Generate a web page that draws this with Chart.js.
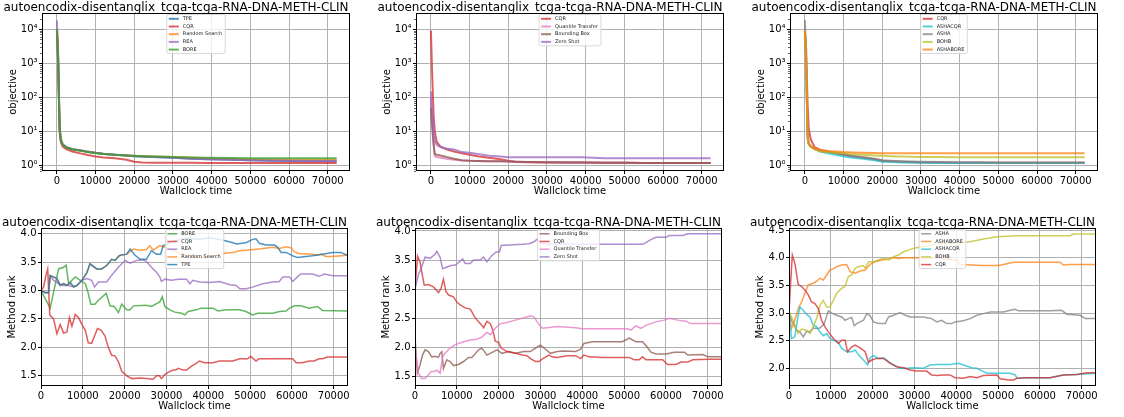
<!DOCTYPE html>
<html>
<head>
<meta charset="utf-8">
<script src="https://cdn.jsdelivr.net/npm/chart.js@4.4.1/dist/chart.umd.min.js"></script>
<style>
  body { margin: 0; background: #fff; width: 1124px; height: 417px; overflow: hidden; position: relative; }
  canvas { position: absolute; }
</style>
</head>
<body>
<canvas id="objBaselines" width="388" height="201" style="left:2px;top:-4px"></canvas>
<canvas id="objTransfer" width="388" height="201" style="left:376px;top:-4px"></canvas>
<canvas id="objMultiFidelity" width="388" height="201" style="left:750px;top:-4px"></canvas>
<canvas id="rankBaselines" width="387" height="201" style="left:1px;top:211px"></canvas>
<canvas id="rankTransfer" width="387" height="201" style="left:375px;top:211px"></canvas>
<canvas id="rankMultiFidelity" width="387" height="201" style="left:749px;top:211px"></canvas>
<script>
const figTitle = 'autoencodix-disentanglix_tcga-tcga-RNA-DNA-METH-CLIN';
const timeTicks = [0, 10000, 20000, 30000, 40000, 50000, 60000, 70000];
const objectiveTicks = [1, 10, 100, 1000, 10000];
const superscripts = ['⁰', '¹', '²', '³', '⁴'];

// wallclock times at which the best objective curves are sampled
const objectiveTimes = [0, 300, 700, 1000, 1500, 2500, 4000, 6000, 8000, 10000, 12000, 15000, 18000, 20000, 22000, 25000, 30000, 35000, 39000, 45000, 50000, 55000, 60000, 65000, 72300];

// best objective so far, baselines
const tpeObj = [9000, 1500, 12, 5.5, 4.0, 3.4, 3.0, 2.8, 2.5, 2.35, 2.2, 2.1, 2.0, 1.9, 1.85, 1.8, 1.7, 1.6, 1.55, 1.5, 1.45, 1.4, 1.38, 1.36, 1.35];
const cqrObj = [9000, 1200, 10, 5, 3.6, 3.0, 2.6, 2.3, 2.05, 1.85, 1.75, 1.65, 1.5, 1.3, 1.24, 1.23, 1.22, 1.22, 1.21, 1.21, 1.2, 1.2, 1.2, 1.2, 1.2];
const rsObj = [9000, 1800, 13, 5.5, 4.0, 3.4, 3.0, 2.8, 2.55, 2.4, 2.25, 2.1, 2.0, 1.95, 1.9, 1.85, 1.8, 1.72, 1.65, 1.6, 1.55, 1.52, 1.5, 1.5, 1.5];
const reaObj = [18000, 2000, 14, 6, 4.2, 3.5, 3.1, 2.85, 2.6, 2.4, 2.25, 2.1, 2.0, 1.9, 1.85, 1.8, 1.7, 1.6, 1.55, 1.5, 1.45, 1.42, 1.4, 1.38, 1.37];
const boreObj = [10000, 2000, 13, 6, 4.2, 3.4, 3.0, 2.8, 2.5, 2.35, 2.2, 2.1, 2.0, 1.95, 1.9, 1.85, 1.8, 1.75, 1.7, 1.68, 1.66, 1.65, 1.65, 1.65, 1.65];

// best objective so far, transfer methods
const cqrTransferObj = [9000, 600, 30, 10, 5, 3.6, 3.0, 2.6, 2.3, 2.1, 1.9, 1.7, 1.55, 1.4, 1.28, 1.26, 1.25, 1.25, 1.24, 1.23, 1.22, 1.21, 1.2, 1.2, 1.2];
const quantileObj = [100, 20, 5, 1.9, 1.8, 1.7, 1.6, 1.5, 1.42, 1.4, 1.38, 1.36, 1.34, 1.32, 1.3, 1.28, 1.26, 1.25, 1.24, 1.23, 1.22, 1.21, 1.2, 1.2, 1.2];
const boundingObj = [50, 15, 4, 2.2, 2.1, 2.0, 1.8, 1.6, 1.45, 1.4, 1.38, 1.36, 1.34, 1.32, 1.3, 1.28, 1.26, 1.25, 1.24, 1.23, 1.22, 1.21, 1.2, 1.2, 1.2];
const zeroShotObj = [150, 40, 8, 5.5, 4.0, 3.5, 3.2, 3.0, 2.5, 2.4, 2.2, 1.95, 1.85, 1.78, 1.78, 1.78, 1.78, 1.78, 1.76, 1.66, 1.66, 1.66, 1.65, 1.65, 1.65];

// best objective so far, multi-fidelity methods
const cqrMfObj = [9000, 3000, 60, 12, 6, 3.5, 2.9, 2.6, 2.3, 2.1, 1.9, 1.7, 1.55, 1.4, 1.35, 1.3, 1.25, 1.24, 1.23, 1.22, 1.22, 1.22, 1.22, 1.22, 1.22];
const ashaCqrObj = [9000, 1000, 6, 4.2, 3.6, 3.1, 2.6, 2.3, 2.1, 1.9, 1.75, 1.6, 1.45, 1.3, 1.28, 1.25, 1.22, 1.2, 1.2, 1.2, 1.2, 1.2, 1.2, 1.2, 1.2];
const ashaObj = [18000, 1500, 8, 4.4, 3.7, 3.1, 2.7, 2.5, 2.35, 2.2, 2.0, 1.8, 1.6, 1.45, 1.4, 1.35, 1.3, 1.28, 1.27, 1.26, 1.25, 1.25, 1.25, 1.25, 1.25];
const bohbObj = [9000, 1200, 7, 4.3, 3.6, 3.0, 2.6, 2.5, 2.4, 2.3, 2.2, 2.1, 2.0, 1.95, 1.9, 1.85, 1.8, 1.8, 1.78, 1.78, 1.78, 1.78, 1.78, 1.78, 1.78];
const ashaBoreObj = [9000, 1500, 8, 4.5, 3.8, 3.2, 2.9, 2.7, 2.6, 2.5, 2.45, 2.4, 2.35, 2.3, 2.3, 2.3, 2.3, 2.3, 2.3, 2.3, 2.3, 2.3, 2.3, 2.3, 2.3];

// average rank over time, [wallclock, rank]
const boreRank = [[0,3.0],[2200,2.69],[4200,3.38],[5400,3.41],[6000,3.45],[6600,3.12],[7400,3.18],[8200,3.24],[9400,3.18],[10600,3.12],[11200,2.98],[11900,2.76],[12900,2.76],[13700,2.83],[15600,2.95],[16500,2.73],[17500,2.72],[18500,2.61],[19300,2.76],[20500,2.66],[21300,2.66],[22100,2.73],[25200,2.74],[26400,2.72],[28400,2.8],[29000,2.89],[29600,2.72],[30800,2.66],[32000,2.62],[33600,2.6],[34400,2.57],[35200,2.63],[37100,2.66],[38300,2.69],[41100,2.69],[42300,2.64],[44300,2.66],[47500,2.66],[49000,2.63],[50600,2.57],[51800,2.6],[55400,2.6],[57000,2.63],[58600,2.64],[59400,2.69],[60600,2.73],[62100,2.73],[64100,2.69],[66100,2.72],[67300,2.65],[73400,2.64]];
const cqrRank = [[0,3.0],[600,3.06],[1200,3.27],[1600,3.38],[2100,2.57],[3000,2.5],[3800,2.24],[4600,2.4],[5400,2.25],[6200,2.27],[6800,2.52],[7400,2.37],[8200,2.58],[9000,2.52],[9800,2.4],[10600,2.3],[11300,2.08],[12100,2.07],[12800,2.2],[13500,2.33],[14400,2.3],[15300,2.2],[16100,2.0],[16900,1.86],[17700,1.85],[18500,1.75],[19300,1.58],[20500,1.5],[21700,1.45],[23700,1.46],[25200,1.45],[26800,1.44],[27600,1.5],[28300,1.5],[28800,1.45],[29600,1.52],[30400,1.56],[31600,1.6],[32200,1.6],[32800,1.63],[34000,1.6],[34800,1.6],[36000,1.67],[37100,1.72],[37900,1.76],[39100,1.73],[41100,1.73],[42700,1.76],[45900,1.76],[47500,1.8],[49400,1.8],[50200,1.84],[51400,1.76],[52200,1.8],[58600,1.8],[60200,1.8],[61000,1.73],[62500,1.73],[64100,1.76],[65300,1.76],[66500,1.8],[67300,1.8],[68500,1.83],[73400,1.83]];
const reaRank = [[0,3.0],[1000,2.97],[1800,2.97],[2200,3.26],[3000,3.18],[4200,3.12],[5400,3.09],[6600,3.09],[7400,3.07],[8600,3.09],[9800,3.18],[11000,3.21],[12100,3.18],[12800,3.06],[13700,3.15],[15700,3.15],[16900,3.27],[18500,3.41],[20100,3.53],[21300,3.48],[22900,3.53],[24400,3.54],[25200,3.51],[26400,3.41],[27600,3.32],[28400,3.24],[28800,3.16],[29600,3.2],[31200,3.18],[32800,3.2],[34800,3.2],[35600,3.12],[36300,3.18],[37900,3.15],[40300,3.14],[42700,3.16],[45100,3.1],[46700,3.09],[47500,3.03],[49000,3.03],[50600,3.06],[53000,3.12],[55400,3.15],[57000,3.16],[57800,3.24],[59400,3.24],[60200,3.16],[61300,3.24],[62100,3.29],[64900,3.29],[66500,3.25],[67700,3.29],[69700,3.26],[73400,3.26]];
const rsRank = [[0,3.0],[1000,2.96],[1800,2.96],[2200,3.26],[3000,3.24],[3800,3.21],[4600,3.09],[5400,3.12],[6200,3.09],[7000,3.14],[7800,3.06],[8600,3.09],[9800,3.18],[11000,3.32],[11700,3.47],[13300,3.38],[14500,3.38],[15700,3.44],[16900,3.55],[17700,3.53],[18500,3.61],[20500,3.64],[22100,3.73],[23700,3.71],[25200,3.72],[26000,3.79],[26800,3.71],[28400,3.79],[29600,3.76],[31600,3.7],[34800,3.62],[37900,3.58],[41100,3.6],[44300,3.66],[45900,3.67],[47500,3.7],[49000,3.71],[52200,3.73],[55400,3.76],[57000,3.74],[58600,3.77],[59800,3.75],[60600,3.68],[61700,3.65],[64900,3.64],[66100,3.62],[66900,3.64],[68100,3.6],[69300,3.6],[72100,3.61],[73400,3.64]];
const tpeRank = [[0,3.0],[1000,2.96],[1800,2.96],[2200,3.26],[3000,3.24],[3800,3.21],[4600,3.09],[5400,3.12],[6200,3.09],[7000,3.14],[7800,3.06],[8600,3.09],[9800,3.18],[11000,3.32],[11700,3.47],[13300,3.38],[14500,3.38],[15700,3.44],[16900,3.55],[17700,3.53],[18900,3.62],[20500,3.64],[21300,3.73],[22500,3.62],[23700,3.55],[25200,3.55],[26400,3.7],[27600,3.64],[28600,3.64],[29200,3.79],[30000,3.81],[31600,3.87],[33600,3.9],[34800,3.92],[37900,3.9],[40300,3.93],[42700,3.9],[44300,3.87],[45900,3.84],[46700,3.82],[49000,3.84],[50600,3.9],[51400,3.91],[52200,3.83],[53800,3.8],[55800,3.8],[56600,3.76],[57400,3.67],[58600,3.67],[60200,3.61],[61300,3.58],[64900,3.61],[67300,3.64],[69700,3.67],[71700,3.67],[73400,3.61]];

const boundingRank = [[0,2.18],[560,1.56],[1200,1.7],[1800,1.87],[2400,1.96],[3200,1.93],[4000,1.84],[4800,1.85],[5600,1.83],[6000,1.9],[6400,1.93],[6800,1.64],[7600,1.79],[8400,1.76],[9200,1.69],[10400,1.71],[11600,1.76],[12800,1.83],[13600,1.83],[15200,1.96],[16000,1.99],[17200,1.87],[18000,1.9],[19600,1.96],[20800,1.9],[22400,1.93],[24000,1.9],[26000,1.93],[27600,1.93],[28800,1.99],[30000,2.04],[31200,1.97],[32400,1.9],[34000,1.93],[35600,1.94],[38400,1.93],[39600,1.97],[40400,2.07],[42400,2.1],[49600,2.1],[51200,2.16],[52800,2.1],[54400,2.1],[55600,2.0],[56400,1.92],[57600,1.89],[60000,1.89],[62000,1.92],[64400,1.92],[65200,1.87],[68800,1.88],[70000,1.84],[73400,1.84]];
const cqrTransferRank = [[0,3.0],[600,3.57],[1200,3.47],[1600,3.3],[2200,3.07],[3200,3.08],[4400,3.04],[5200,2.98],[5600,2.94],[6200,3.01],[6800,3.17],[7400,2.96],[8000,2.9],[9200,2.87],[10000,2.78],[10800,2.73],[12000,2.68],[13200,2.66],[13600,2.61],[14200,2.53],[15200,2.44],[16000,2.38],[16400,2.34],[17200,2.45],[18000,2.41],[18600,2.3],[19200,2.11],[20000,2.09],[20600,1.99],[22000,1.93],[24000,1.9],[25600,1.87],[26800,1.86],[27600,1.81],[28800,1.76],[29600,1.76],[30400,1.8],[32000,1.87],[32800,1.84],[34000,1.83],[36400,1.86],[38400,1.86],[39600,1.81],[40400,1.87],[41600,1.84],[44800,1.83],[51200,1.83],[52400,1.79],[53600,1.79],[54400,1.84],[55200,1.79],[59200,1.79],[60400,1.71],[62400,1.71],[63600,1.75],[65200,1.75],[66400,1.79],[70400,1.8],[73400,1.8]];
const quantileRank = [[0,2.0],[800,1.56],[1600,1.47],[2400,1.47],[3200,1.53],[3800,1.59],[4600,1.59],[5200,1.61],[6000,1.56],[6600,1.84],[7200,1.9],[8400,1.99],[9600,2.05],[11600,2.1],[13200,2.13],[14800,2.14],[16000,2.18],[17200,2.26],[18000,2.22],[19200,2.33],[20400,2.41],[22000,2.43],[24000,2.47],[26000,2.51],[27600,2.54],[28400,2.53],[29200,2.44],[30400,2.33],[31600,2.34],[34000,2.36],[38400,2.34],[40000,2.32],[46400,2.32],[50800,2.32],[51600,2.3],[52800,2.37],[54000,2.33],[55200,2.38],[57600,2.44],[59600,2.47],[60800,2.5],[62800,2.47],[64800,2.45],[66000,2.41],[73400,2.41]];
const zeroShotRank = [[0,3.0],[800,3.25],[1600,3.38],[2400,3.55],[3600,3.53],[4800,3.6],[5200,3.65],[6000,3.55],[6600,3.35],[7600,3.38],[8800,3.41],[9600,3.41],[10800,3.48],[11400,3.52],[12000,3.44],[13200,3.44],[14000,3.5],[15600,3.5],[16400,3.55],[17200,3.47],[18400,3.58],[19400,3.64],[20200,3.64],[20600,3.75],[22400,3.76],[25600,3.77],[27200,3.78],[28400,3.81],[29200,3.86],[30000,3.79],[32000,3.77],[44800,3.77],[54400,3.77],[55200,3.8],[56400,3.85],[57600,3.89],[60000,3.89],[60800,3.92],[64000,3.92],[65200,3.95],[73400,3.95]];

const ashaRank = [[0,3.02],[600,2.87],[1800,2.69],[2600,2.66],[3400,2.57],[4200,2.67],[5000,2.66],[5800,2.73],[6600,2.72],[7400,2.73],[8400,2.8],[9400,3.04],[10200,3.0],[11400,2.96],[12600,2.93],[13400,2.87],[14200,2.9],[15000,2.92],[15600,2.77],[16200,2.81],[17000,2.84],[17800,2.87],[18600,2.99],[19400,2.95],[20200,2.84],[21400,2.81],[23000,2.81],[23800,2.93],[25000,2.96],[26600,3.01],[27800,2.96],[29000,2.93],[32100,2.93],[34100,2.9],[35300,2.84],[36500,2.87],[37700,2.81],[38900,2.81],[39700,2.84],[41700,2.86],[43300,2.9],[44900,2.96],[46500,2.99],[48100,3.02],[51300,3.02],[52900,3.05],[54100,3.07],[54900,3.04],[62400,3.04],[65200,3.05],[66400,2.98],[69600,2.96],[70800,2.9],[73400,2.9]];
const ashaBoreRank = [[0,3.02],[600,2.72],[1400,2.87],[2200,3.08],[3000,3.2],[3800,3.36],[4600,3.51],[5800,3.54],[6600,3.58],[7400,3.63],[8200,3.6],[9000,3.69],[9800,3.78],[10600,3.8],[11400,3.84],[12600,3.87],[13800,3.88],[14600,3.75],[15800,3.72],[17000,3.76],[18200,3.78],[19400,3.88],[20600,3.93],[22200,3.96],[23800,3.98],[25000,4.0],[26200,3.99],[27800,4.0],[35300,4.0],[40100,3.96],[40900,3.88],[46500,3.86],[50100,3.86],[51300,3.88],[53700,3.92],[64800,3.92],[65600,3.87],[67200,3.88],[73400,3.88]];
const ashaCqrRank = [[0,3.02],[600,2.54],[1400,2.57],[2200,2.96],[2600,3.11],[3400,3.05],[4200,2.98],[5000,2.93],[5800,2.78],[6600,2.75],[7400,2.66],[8200,2.59],[9000,2.63],[9800,2.54],[10600,2.51],[11800,2.47],[12600,2.36],[13800,2.3],[15000,2.3],[15800,2.33],[17000,2.21],[18200,2.12],[18800,2.06],[19400,2.19],[20200,2.23],[21400,2.18],[22600,2.19],[23800,2.12],[25000,2.06],[26600,2.0],[28200,2.0],[29700,2.01],[32100,2.0],[33700,2.06],[35300,2.07],[38500,2.07],[40500,2.09],[41700,2.06],[43700,2.01],[44900,2.0],[46500,1.94],[47300,1.91],[52900,1.91],[54100,1.88],[54500,1.82],[56900,1.83],[62400,1.83],[65600,1.88],[68800,1.89],[73400,1.91]];
const bohbRank = [[0,3.02],[1000,2.87],[2200,2.63],[3000,2.71],[4200,2.69],[5000,2.63],[5800,2.75],[6600,2.9],[7400,3.14],[8200,3.23],[9000,3.11],[9800,3.11],[10600,3.23],[11400,3.36],[12600,3.45],[13400,3.48],[14200,3.66],[15000,3.69],[15800,3.81],[16600,3.84],[17800,3.86],[18200,3.81],[19000,3.93],[20200,3.93],[21400,3.96],[22600,3.99],[23800,3.96],[25000,4.02],[26200,4.05],[27400,4.11],[28500,4.14],[30100,4.18],[32100,4.2],[34100,4.23],[35300,4.26],[38500,4.26],[43300,4.29],[46500,4.34],[49700,4.38],[54500,4.4],[67200,4.4],[68000,4.43],[73400,4.43]];
const cqrMfRank = [[0,3.02],[400,3.57],[800,4.05],[1400,3.9],[2200,3.52],[3000,3.48],[3800,3.42],[4600,3.33],[5400,3.2],[6200,3.17],[7000,3.08],[7800,2.87],[8600,2.75],[9400,2.66],[10600,2.54],[11800,2.45],[12600,2.51],[13400,2.51],[14000,2.3],[15000,2.39],[15800,2.42],[17000,2.37],[18200,2.3],[19000,2.11],[19800,2.15],[21000,2.18],[22600,2.18],[24200,2.09],[25800,2.03],[27400,2.01],[28900,1.97],[30500,1.95],[32900,1.95],[34100,1.88],[35300,1.87],[36900,1.88],[38500,1.88],[39700,1.83],[41700,1.82],[43300,1.85],[44900,1.83],[46500,1.87],[49700,1.88],[50500,1.81],[52500,1.79],[53700,1.79],[54500,1.82],[56900,1.83],[62400,1.83],[65600,1.88],[68800,1.89],[71200,1.92],[73400,1.92]];

const tab = {
  blue: 'rgba(31,119,180,0.8)',
  orange: 'rgba(255,127,14,0.75)',
  green: 'rgba(44,160,44,0.75)',
  red: 'rgba(214,39,40,0.75)',
  purple: 'rgba(148,103,189,0.75)',
  brown: 'rgba(140,86,75,0.75)',
  pink: 'rgba(227,119,194,0.75)',
  gray: 'rgba(127,127,127,0.75)',
  olive: 'rgba(188,189,34,0.75)',
  cyan: 'rgba(23,190,207,0.75)'
};

Chart.defaults.font.family = "'DejaVu Sans', sans-serif";
Chart.defaults.color = '#000';

// closed black box around the plot area, plus minor ticks on log axes
const frameBox = {
  id: 'frameBox',
  afterDraw(chart) {
    const { ctx, chartArea: a } = chart;
    ctx.save();
    ctx.strokeStyle = '#000';
    ctx.lineWidth = 1;
    ctx.strokeRect(a.left + 0.5, a.top + 0.5, a.right - a.left - 1, a.bottom - a.top - 1);
    const y = chart.scales.y;
    if (y.type === 'logarithmic') {
      ctx.lineWidth = 0.6;
      ctx.beginPath();
      for (let e = -1; e <= 4; e++) {
        for (let k = 2; k <= 9; k++) {
          const v = k * Math.pow(10, e);
          if (v < y.min || v > y.max) continue;
          const py = Math.round(y.getPixelForValue(v)) + 0.5;
          ctx.moveTo(a.left - 2, py);
          ctx.lineTo(a.left, py);
        }
      }
      ctx.stroke();
    }
    ctx.restore();
  }
};

// small framed legend at the upper centre of the plot area
const cornerLegend = {
  id: 'cornerLegend',
  afterDatasetsDraw(chart) {
    const ctx = chart.ctx;
    const a = chart.chartArea;
    const sets = chart.data.datasets;
    ctx.save();
    ctx.font = '5px "DejaVu Sans"';
    const textW = Math.max(...sets.map(d => ctx.measureText(d.label).width));
    const w = textW + 19;
    const h = sets.length * 7.7 + 0.5;
    const left = (a.left + a.right) / 2 - w / 2;
    const top = a.top + 1.5;
    ctx.beginPath();
    ctx.roundRect(left, top, w, h, 1.5);
    ctx.fillStyle = 'rgba(255,255,255,0.8)';
    ctx.fill();
    ctx.strokeStyle = '#d0d0d0';
    ctx.lineWidth = 0.8;
    ctx.stroke();
    ctx.textBaseline = 'middle';
    sets.forEach((d, i) => {
      const y = top + 4.3 + i * 7.7;
      ctx.beginPath();
      ctx.moveTo(left + 2, y);
      ctx.lineTo(left + 12, y);
      ctx.strokeStyle = d.borderColor;
      ctx.lineWidth = d.borderWidth;
      ctx.stroke();
      ctx.fillStyle = '#222';
      ctx.fillText(d.label, left + 16, y);
    });
    ctx.restore();
  }
};

const gridStyle = { color: '#b0b0b0', lineWidth: 1, tickLength: 3, tickColor: '#000' };

function timeAxis(min, max) {
  return {
    type: 'linear', min, max,
    afterBuildTicks: axis => { axis.ticks = timeTicks.map(value => ({ value })); },
    afterFit: axis => { axis.height = 26; },
    ticks: { callback: v => String(v), font: { size: 10 }, padding: 1, maxRotation: 0, autoSkip: false },
    grid: gridStyle,
    border: { display: false },
    title: { display: true, text: 'Wallclock time', font: { size: 10 }, padding: { top: 0, bottom: 0 } }
  };
}

function objectiveAxis() {
  return {
    type: 'logarithmic', min: 0.7, max: 29500,
    afterBuildTicks: axis => { axis.ticks = objectiveTicks.map(value => ({ value })); },
    afterFit: axis => { axis.width = 40; },
    ticks: { callback: v => '10' + superscripts[Math.round(Math.log10(v))], font: { size: 10 }, padding: 1.5, autoSkip: false },
    grid: gridStyle,
    border: { display: false },
    title: { display: true, text: 'objective', font: { size: 10 }, padding: { top: 5.5, bottom: 0 } }
  };
}

function rankAxis(min, max, ticks) {
  return {
    type: 'linear', min, max,
    afterBuildTicks: axis => { axis.ticks = ticks.map(value => ({ value })); },
    afterFit: axis => { axis.width = 40; },
    ticks: { callback: v => v.toFixed(1), font: { size: 10 }, padding: 1.5, autoSkip: false },
    grid: gridStyle,
    border: { display: false },
    title: { display: true, text: 'Method rank', font: { size: 10 }, padding: { top: 5.5, bottom: 0 } }
  };
}

function objectiveSeries(list) {
  return list.map(([label, color, values], i) => ({
    label, borderColor: color, borderWidth: 2, pointRadius: 0, fill: false, order: -i,
    data: values.map((v, j) => ({ x: objectiveTimes[j], y: v }))
  }));
}

function rankSeries(list) {
  return list.map(([label, color, pts], i) => ({
    label, borderColor: color, borderWidth: 1.5, pointRadius: 0, fill: false, order: -i,
    data: pts.map(([x, y]) => ({ x, y }))
  }));
}

function drawPanel(id, datasets, x, y) {
  new Chart(document.getElementById(id), {
    type: 'line',
    data: { datasets },
    options: {
      responsive: false,
      animation: false,
      devicePixelRatio: 1,
      events: [],
      layout: { padding: { left: 0, right: 40, top: 0, bottom: 0 } },
      scales: { x, y },
      plugins: {
        legend: { display: false },
        tooltip: { enabled: false },
        title: {
          display: true, text: figTitle, color: '#000',
          font: { size: 12, weight: 'normal', lineHeight: 0.8 },
          padding: { top: 7, bottom: 0.4 }
        }
      }
    },
    plugins: [frameBox, cornerLegend]
  });
}

drawPanel('objBaselines', objectiveSeries([
  ['TPE', tab.blue, tpeObj],
  ['CQR', tab.red, cqrObj],
  ['Random Search', tab.orange, rsObj],
  ['REA', tab.purple, reaObj],
  ['BORE', tab.green, boreObj]
]), timeAxis(-3850, 75750), objectiveAxis());

drawPanel('objTransfer', objectiveSeries([
  ['CQR', tab.red, cqrTransferObj],
  ['Quantile Transfer', tab.pink, quantileObj],
  ['Bounding Box', tab.brown, boundingObj],
  ['Zero Shot', tab.purple, zeroShotObj]
]), timeAxis(-3850, 75750), objectiveAxis());

drawPanel('objMultiFidelity', objectiveSeries([
  ['CQR', tab.red, cqrMfObj],
  ['ASHACQR', tab.cyan, ashaCqrObj],
  ['ASHA', tab.gray, ashaObj],
  ['BOHB', tab.olive, bohbObj],
  ['ASHABORE', tab.orange, ashaBoreObj]
]), timeAxis(-3850, 75750), objectiveAxis());

drawPanel('rankBaselines', rankSeries([
  ['BORE', tab.green, boreRank],
  ['CQR', tab.red, cqrRank],
  ['REA', tab.purple, reaRank],
  ['Random Search', tab.orange, rsRank],
  ['TPE', tab.blue, tpeRank]
]), timeAxis(0, 73400), rankAxis(1.32, 4.1, [1.5, 2.0, 2.5, 3.0, 3.5, 4.0]));

drawPanel('rankTransfer', rankSeries([
  ['Bounding Box', tab.brown, boundingRank],
  ['CQR', tab.red, cqrTransferRank],
  ['Quantile Transfer', tab.pink, quantileRank],
  ['Zero Shot', tab.purple, zeroShotRank]
]), timeAxis(0, 73400), rankAxis(1.34, 4.05, [1.5, 2.0, 2.5, 3.0, 3.5, 4.0]));

drawPanel('rankMultiFidelity', rankSeries([
  ['ASHA', tab.gray, ashaRank],
  ['ASHABORE', tab.orange, ashaBoreRank],
  ['ASHACQR', tab.cyan, ashaCqrRank],
  ['BOHB', tab.olive, bohbRank],
  ['CQR', tab.red, cqrMfRank]
]), timeAxis(0, 73400), rankAxis(1.68, 4.54, [2.0, 2.5, 3.0, 3.5, 4.0, 4.5]));
</script>
</body>
</html>
